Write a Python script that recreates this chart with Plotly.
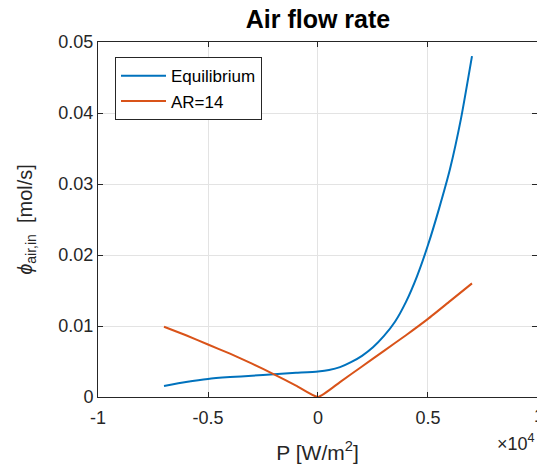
import plotly.graph_objects as go

# Heat-flux sweep (W/m^2) and resulting air inflow (mol/s)
p_eq = [-7000, -6000, -5000, -4000, -3000, -2000, -1000, 0,
        500, 1000, 1500, 2000, 2500, 3000, 3500, 4000, 4500,
        5000, 5500, 6000, 6500, 7000]
phi_eq = [0.00155, 0.0021, 0.00254, 0.0028, 0.0030, 0.0032, 0.0034, 0.0036,
          0.0038, 0.0042, 0.0049, 0.0058, 0.0070, 0.0086, 0.0106, 0.0134, 0.0170,
          0.0214, 0.0265, 0.0321, 0.0392, 0.0480]

p_ar = [-7000, -6000, -5000, -4000, -3000, -2000, -1000, 0,
        1000, 2000, 3000, 4000, 5000, 6000, 7000]
phi_ar = [0.0099, 0.0087, 0.0074, 0.0061, 0.0047, 0.0032, 0.0016, 0.0,
          0.0021, 0.0043, 0.0065, 0.0087, 0.0110, 0.0135, 0.0160]

x_ticks = [-10000, -5000, 0, 5000]
x_tick_text = ["-1", "-0.5", "0", "0.5"]
y_ticks = [0, 0.01, 0.02, 0.03, 0.04, 0.05]
y_tick_text = ["0", "0.01", "0.02", "0.03", "0.04", "0.05"]

FONT = "Liberation Sans, Arial, Helvetica, sans-serif"
AX = "#262626"
GRID = "#e3e3e3"

fig = go.Figure()
fig.add_trace(go.Scatter(x=p_eq, y=phi_eq, mode="lines", name="Equilibrium",
                         line=dict(color="#0072BD", width=2, shape="spline",
                                   smoothing=0.6)))
fig.add_trace(go.Scatter(x=p_ar, y=phi_ar, mode="lines", name="AR=14",
                         line=dict(color="#D95319", width=2, shape="spline",
                                   smoothing=0.5)))

axis_common = dict(showline=True, linecolor=AX, linewidth=1, mirror="ticks",
                   ticks="inside", ticklen=5, tickcolor=AX, tickwidth=1,
                   showgrid=True, gridcolor=GRID, gridwidth=1, zeroline=False,
                   tickfont=dict(family=FONT, size=18, color=AX))

fig.update_layout(
    width=537, height=468,
    margin=dict(l=98, r=0, t=42, b=71),
    paper_bgcolor="white", plot_bgcolor="white",
    font=dict(family=FONT, color=AX),
    title=dict(text="<b>Air flow rate</b>", x=318 / 537, xanchor="center",
               y=1 - 19 / 468, yanchor="middle",
               font=dict(family=FONT, size=25, color="black")),
    xaxis=dict(range=[-10000, 9955], tickvals=x_ticks, ticktext=x_tick_text,
               ticklabelstandoff=4,
               title=dict(text="P [W/m<sup>2</sup>]", standoff=18,
                          font=dict(family=FONT, size=21, color=AX)),
               **axis_common),
    yaxis=dict(range=[0, 0.05], tickvals=y_ticks, ticktext=y_tick_text,
               title=dict(text="<i>ϕ</i><sub>air,in</sub>  [mol/s]", standoff=20,
                          font=dict(family=FONT, size=20, color=AX)),
               **axis_common),
    legend=dict(x=17 / 439, y=0.957, xanchor="left", yanchor="top",
                bgcolor="white", bordercolor=AX, borderwidth=1,
                font=dict(family=FONT, size=17, color="black"),
                tracegroupgap=0, itemwidth=45),
    showlegend=True,
)

# axis exponent label and the clipped "1" at the right end of the x axis
fig.add_annotation(text="×10<sup>4</sup>", xref="paper", yref="paper",
                   x=1.0, y=-45 / 355, xanchor="right", yanchor="middle",
                   showarrow=False, font=dict(family=FONT, size=18, color=AX))
fig.add_annotation(text="1", xref="paper", yref="paper",
                   x=441 / 439, y=-19 / 355, xanchor="center", yanchor="middle",
                   showarrow=False, font=dict(family=FONT, size=18, color=AX))

fig.write_html("out.html")
